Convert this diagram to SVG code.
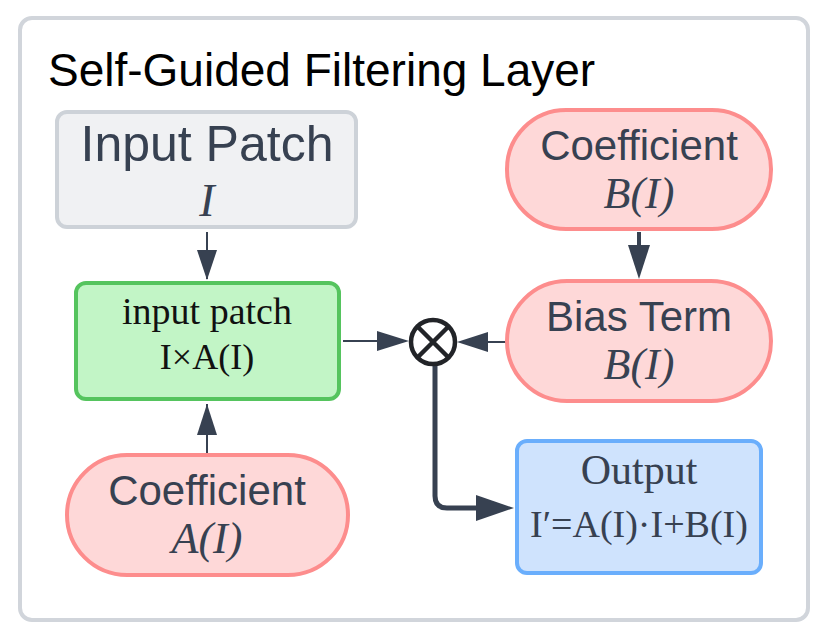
<svg xmlns="http://www.w3.org/2000/svg" width="831" height="637" viewBox="0 0 831 637">
<defs>
<style>
.sans{font-family:"Liberation Sans",Arial,sans-serif;fill:#374151;text-anchor:middle}
.serif{font-family:"Liberation Serif","Times New Roman",serif;text-anchor:middle}
.math{font-family:"Liberation Serif","Times New Roman",serif;font-style:italic;fill:#374151;text-anchor:middle}
.pill{fill:#fed8d8;stroke:#fd8d8d;stroke-width:4}
.line{stroke:#374151;fill:none}
</style>
</defs>
<rect x="0" y="0" width="831" height="637" fill="#ffffff"/>
<rect x="20" y="18" width="788" height="602" rx="12" fill="#ffffff" stroke="#d1d5db" stroke-width="4"/>
<text x="48" y="86" font-family="Liberation Sans,Arial,sans-serif" font-size="46" fill="#000000">Self-Guided Filtering Layer</text>

<g id="connectors">
<line class="line" x1="207" y1="232" x2="207" y2="279" stroke-width="2"/>
<path d="M197,250 L217,250 L207,280 z" fill="#374151"/>
<line class="line" x1="207" y1="453" x2="207" y2="404" stroke-width="2"/>
<path d="M197,435 L217,435 L207,404 z" fill="#374151"/>
<line class="line" x1="639" y1="232" x2="639" y2="250" stroke-width="4"/>
<path d="M628,245 L650,245 L639,279 z" fill="#374151"/>
<line class="line" x1="343" y1="341" x2="380" y2="341" stroke-width="2"/>
<path d="M377,331 L377,351 L409,341 z" fill="#374151"/>
<line class="line" x1="506" y1="342" x2="485" y2="342" stroke-width="2"/>
<path d="M488,332 L488,352 L457,342 z" fill="#374151"/>
<path class="line" d="M435,366 L435,496 Q435,508 447,508 L480,508" stroke-width="5"/>
<path d="M476,495 L476,521 L514,508 z" fill="#374151"/>
</g>

<g id="input-patch">
<rect x="57" y="112" width="299" height="115" rx="10" fill="#f0f1f3" stroke="#cdd2d8" stroke-width="4"/>
<text class="sans" x="207" y="161" font-size="50">Input Patch</text>
<text class="math" x="207" y="216" font-size="46">I</text>
</g>

<g id="product">
<rect x="76" y="283" width="263" height="116" rx="10" fill="#c2f5c6" stroke="#55c45e" stroke-width="4"/>
<text class="serif" x="207" y="324" font-size="38" fill="#111111">input patch</text>
<text class="serif" x="207" y="369" font-size="36" fill="#111111">I×A(I)</text>
</g>

<g id="coef-a">
<rect class="pill" x="67" y="455" width="281" height="120" rx="60"/>
<text class="sans" x="207" y="505" font-size="42">Coefficient</text>
<text class="math" x="207" y="553" font-size="44">A(I)</text>
</g>

<g id="coef-b">
<rect class="pill" x="507" y="110" width="264" height="119" rx="59"/>
<text class="sans" x="639" y="160" font-size="42">Coefficient</text>
<text class="math" x="639" y="208" font-size="44">B(I)</text>
</g>

<g id="bias">
<rect class="pill" x="507" y="281" width="264" height="120" rx="60"/>
<text class="sans" x="639" y="331" font-size="42">Bias Term</text>
<text class="math" x="639" y="379" font-size="44">B(I)</text>
</g>

<g id="multiply">
<circle cx="433" cy="342" r="22" fill="#ffffff" stroke="#222428" stroke-width="4.5"/>
<path d="M418,327 L448,357 M448,327 L418,357" stroke="#222428" stroke-width="4.5"/>
</g>

<g id="output">
<rect x="517" y="441" width="244" height="132" rx="10" fill="#cfe3fd" stroke="#6aaefc" stroke-width="4"/>
<text class="serif" x="639" y="484" font-size="42" fill="#374151">Output</text>
<text class="serif" x="639" y="537" font-size="38" fill="#374151">I′=A(I)·I+B(I)</text>
</g>
</svg>
